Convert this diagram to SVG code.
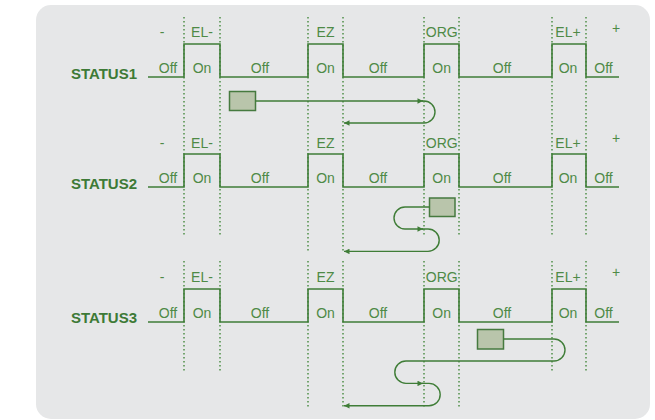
<svg xmlns="http://www.w3.org/2000/svg" width="655" height="420" viewBox="0 0 655 420">
  <defs>
    <style>
      .wave { fill: none; stroke: #3f7d37; stroke-width: 1.6; }
      .grid { fill: none; stroke: #4f8f47; stroke-width: 1.5; stroke-dasharray: 1.6 2.4; }
      .lbl { font-family: "Liberation Sans", Arial, sans-serif; font-size: 14px; fill: #4e8a46; text-anchor: middle; }
      .name { font-family: "Liberation Sans", Arial, sans-serif; font-size: 15px; font-weight: bold; fill: #3d7a36; text-anchor: end; }
      .box { fill: #b9c5ab; stroke: #467a3f; stroke-width: 1.5; }
      .flow { fill: none; stroke: #3f7d37; stroke-width: 1.4; }
    </style>
    <marker id="arr" viewBox="0 0 10 10" refX="10" refY="5" markerWidth="8" markerHeight="5.5" markerUnits="userSpaceOnUse" orient="auto">
      <path d="M0,0 L10,5 L0,10 z" fill="#3f7d37"/>
    </marker>
  </defs>

  <!-- panel background -->
  <rect x="0" y="0" width="655" height="420" fill="#ffffff"/>
  <rect x="36" y="5" width="614" height="414" rx="15" ry="15" fill="#e6e7e8"/>

  <!-- row 1 -->
  <g id="status1">
    <g class="grid">
      <path d="M184,17 V236 M220,17 V236 M308,17 V251 M343,17 V251 M424,17 V236 M459,17 V236 M552,17 V236 M586,17 V236"/>
    </g>
    <path class="wave" d="M148,77 H184 V44 H220 V77 H308 V44 H343 V77 H424 V44 H459 V77 H552 V44 H586 V77 H619"/>
    <text class="name" x="137" y="78.5">STATUS1</text>
    <text class="lbl" x="162" y="37">-</text>
    <text class="lbl" x="202" y="37">EL-</text>
    <text class="lbl" x="325.5" y="37">EZ</text>
    <text class="lbl" x="441.7" y="37">ORG</text>
    <text class="lbl" x="568" y="37">EL+</text>
    <text class="lbl" x="616" y="33">+</text>
    <text class="lbl" x="168" y="72.5">Off</text>
    <text class="lbl" x="202" y="72.5">On</text>
    <text class="lbl" x="260" y="72.5">Off</text>
    <text class="lbl" x="325.5" y="72.5">On</text>
    <text class="lbl" x="378" y="72.5">Off</text>
    <text class="lbl" x="441.7" y="72.5">On</text>
    <text class="lbl" x="502" y="72.5">Off</text>
    <text class="lbl" x="568" y="72.5">On</text>
    <text class="lbl" x="603.5" y="72.5">Off</text>
    <rect class="box" x="229.5" y="91.5" width="26" height="19"/>
  </g>

  <!-- row 2 -->
  <g id="status2">
    <path class="wave" d="M148,187 H184 V154 H220 V187 H308 V154 H343 V187 H424 V154 H459 V187 H552 V154 H586 V187 H619"/>
    <text class="name" x="137" y="188.5">STATUS2</text>
    <text class="lbl" x="162" y="148">-</text>
    <text class="lbl" x="202" y="148">EL-</text>
    <text class="lbl" x="325.5" y="148">EZ</text>
    <text class="lbl" x="441.7" y="148">ORG</text>
    <text class="lbl" x="568" y="148">EL+</text>
    <text class="lbl" x="616" y="143">+</text>
    <text class="lbl" x="168" y="183">Off</text>
    <text class="lbl" x="202" y="183">On</text>
    <text class="lbl" x="260" y="183">Off</text>
    <text class="lbl" x="325.5" y="183">On</text>
    <text class="lbl" x="378" y="183">Off</text>
    <text class="lbl" x="441.7" y="183">On</text>
    <text class="lbl" x="502" y="183">Off</text>
    <text class="lbl" x="568" y="183">On</text>
    <text class="lbl" x="603.5" y="183">Off</text>
    <rect class="box" x="429.5" y="198" width="25.5" height="18.5"/>
  </g>

  <!-- row 3 -->
  <g id="status3">
    <g class="grid">
      <path d="M184,261 V371 M220,261 V371 M308,261 V407 M343,261 V407 M424,261 V407 M459,261 V407 M552,261 V371 M586,261 V371"/>
    </g>
    <path class="wave" d="M148,322 H184 V289 H220 V322 H308 V289 H343 V322 H424 V289 H459 V322 H552 V289 H586 V322 H619"/>
    <text class="name" x="137" y="322.5">STATUS3</text>
    <text class="lbl" x="162" y="281.5">-</text>
    <text class="lbl" x="202" y="281.5">EL-</text>
    <text class="lbl" x="325.5" y="281.5">EZ</text>
    <text class="lbl" x="441.7" y="281.5">ORG</text>
    <text class="lbl" x="568" y="281.5">EL+</text>
    <text class="lbl" x="616" y="277">+</text>
    <text class="lbl" x="168" y="317.5">Off</text>
    <text class="lbl" x="202" y="317.5">On</text>
    <text class="lbl" x="260" y="317.5">Off</text>
    <text class="lbl" x="325.5" y="317.5">On</text>
    <text class="lbl" x="378" y="317.5">Off</text>
    <text class="lbl" x="441.7" y="317.5">On</text>
    <text class="lbl" x="502" y="317.5">Off</text>
    <text class="lbl" x="568" y="317.5">On</text>
    <text class="lbl" x="603.5" y="317.5">Off</text>
    <rect class="box" x="477.5" y="329.5" width="26" height="19.5"/>
  </g>

  <!-- travel paths -->
  <g id="connectors">
    <path class="flow" d="M255.5,101 H423" marker-end="url(#arr)"/>
    <path class="flow" d="M422,101 H424 A11,11 0 0 1 424,123 H344" marker-end="url(#arr)"/>

    <path class="flow" d="M429.5,207 H405 A11,11 0 0 0 405,229 H423" marker-end="url(#arr)"/>
    <path class="flow" d="M422,229 H428 A11.2,11.2 0 0 1 428,251.4 H344" marker-end="url(#arr)"/>

    <path class="flow" d="M503.5,339 H554 A11,11 0 0 1 554,361 H406 A11.2,11.2 0 0 0 406,383.4 H423" marker-end="url(#arr)"/>
    <path class="flow" d="M422,383.4 H429 A11.2,11.2 0 0 1 429,405.8 H344" marker-end="url(#arr)"/>
  </g>
</svg>
